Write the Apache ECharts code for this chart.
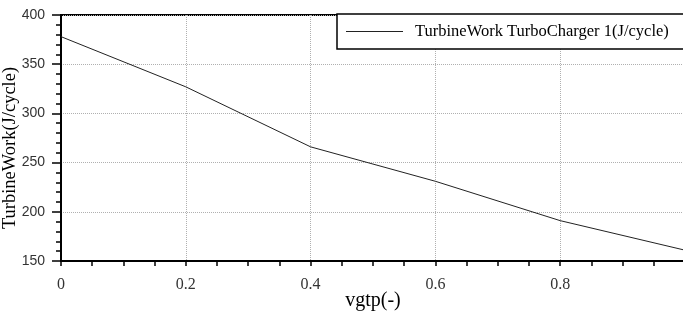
<!DOCTYPE html>
<html>
<head>
<meta charset="utf-8">
<script src="https://cdn.jsdelivr.net/npm/echarts@6/dist/echarts.min.js"></script>
<style>
  html, body { margin: 0; padding: 0; background: #fff; }
  #chart { width: 683px; height: 318px; }
</style>
</head>
<body>
<div id="chart"></div>
<script>
// 数据放在顶层，方便修改
var vgtp = [0, 0.2, 0.4, 0.6, 0.8, 1.0];
var turbineWork = [378, 327, 266, 231, 191, 161];
var seriesName = 'TurbineWork TurboCharger 1(J/cycle)';
var xLabels = ['0', '0.2', '0.4', '0.6', '0.8'];

(function(){
    var myChart = echarts.init(document.getElementById('chart'));
    var points = vgtp.map(function(v, i){ return [v, turbineWork[i]]; });
    var serif = '"Liberation Serif", "DejaVu Serif", serif';
    var sans = '"Liberation Sans", Arial, sans-serif';

    var option = {
        animation: false,
        grid: {
            left: 61,
            right: -2,
            top: 15,
            bottom: 57,
            outerBoundsMode: 'none',
            containLabel: false,
            show: true,
            borderColor: '#000',
            borderWidth: 2
        },
        legend: {
            left: 337,
            top: 14,
            padding: [9, 40, 9, 9],
            itemWidth: 57,
            itemHeight: 10,
            borderColor: '#000',
            borderWidth: 1.5,
            backgroundColor: '#fff',
            icon: 'path://M0,5 L57,5 L57,6 L0,6 Z',
            textStyle: { fontFamily: serif, fontSize: 16.5, color: '#000', padding: [0, 0, 0, 7] },
            data: [seriesName]
        },
        xAxis: {
            type: 'value',
            min: 0,
            max: 1,
            interval: 0.2,
            name: 'vgtp(-)',
            nameLocation: 'middle',
            nameGap: 30,
            nameMoveOverlap: false,
            nameTextStyle: { fontFamily: serif, fontSize: 20, color: '#000' },
            axisLine: { show: true, lineStyle: { color: '#000', width: 2 } },
            axisTick: { show: true, length: 5, lineStyle: { color: '#000', width: 1.5 } },
            minorTick: { show: true, splitNumber: 4, length: 5, lineStyle: { color: '#000', width: 1.5 } },
            axisLabel: {
                margin: 16,
                fontFamily: serif,
                fontSize: 16,
                color: '#333',
                showMaxLabel: false,
                formatter: function(v){
                    var i = Math.round(v / 0.2);
                    return xLabels[i] !== undefined ? xLabels[i] : '';
                }
            },
            splitLine: { show: true, lineStyle: { color: '#b0b0b0', type: 'dotted', width: 1 } }
        },
        yAxis: {
            type: 'value',
            min: 150,
            max: 400,
            interval: 50,
            name: 'TurbineWork(J/cycle)',
            nameLocation: 'middle',
            nameGap: 41,
            nameMoveOverlap: false,
            nameTextStyle: { fontFamily: serif, fontSize: 18.5, color: '#000', padding: [0, 20, 0, 0] },
            axisLine: { show: true, lineStyle: { color: '#000', width: 2 } },
            axisTick: { show: true, length: 9, lineStyle: { color: '#000', width: 1.5 } },
            minorTick: { show: true, splitNumber: 5, length: 5, lineStyle: { color: '#000', width: 1.5 } },
            axisLabel: { margin: 16, fontFamily: sans, fontSize: 14, color: '#333' },
            splitLine: { show: true, lineStyle: { color: '#b0b0b0', type: 'dotted', width: 1 } }
        },
        series: [{
            name: seriesName,
            type: 'line',
            symbol: 'none',
            data: points,
            lineStyle: { color: '#222', width: 1 },
            itemStyle: { color: '#222' }
        }]
    };
    myChart.setOption(option);
})();
</script>
</body>
</html>
